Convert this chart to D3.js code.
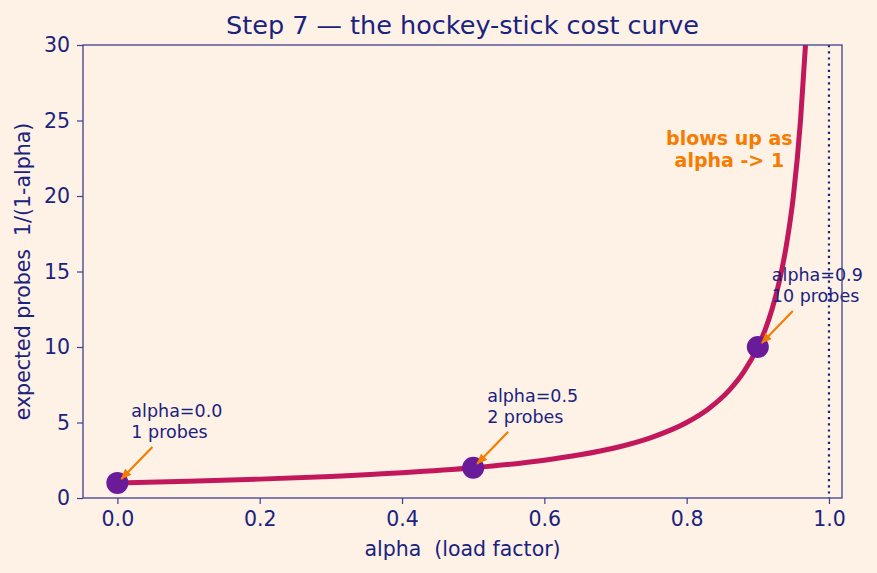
<!DOCTYPE html>
<html><head><meta charset="utf-8">
<script src="https://cdn.jsdelivr.net/npm/d3@7/dist/d3.min.js"></script>
<style>
html,body{margin:0;padding:0;background:#fef1e6;}
svg{display:block;font-family:"DejaVu Sans",sans-serif;}
text{white-space:pre;}
</style></head><body>
<svg id="chart" width="877" height="573"></svg>
<script>
// Curve samples (alpha, expected probes)
const alphaGrid = [0, 0.1, 0.2, 0.3, 0.4, 0.5, 0.6, 0.65, 0.7, 0.75, 0.8, 0.83, 0.86, 0.88, 0.9, 0.91, 0.92, 0.93, 0.94, 0.95, 0.96, 0.967];
const probes    = [1, 1.11, 1.25, 1.43, 1.67, 2, 2.5, 2.86, 3.33, 4, 5, 5.88, 7.14, 8.33, 10, 11.1, 12.5, 14.3, 16.7, 20, 25, 30];
// Highlighted points
const markAlpha = [0.0, 0.5, 0.9];
const markProbes = [1, 2, 10];
const markLabels = [["alpha=0.0", "1 probes"], ["alpha=0.5", "2 probes"], ["alpha=0.9", "10 probes"]];
// Axis ticks
const xTicks = [0.0, 0.2, 0.4, 0.6, 0.8, 1.0];
const yTicks = [0, 5, 10, 15, 20, 25, 30];
const asymptote = 1.0;
const title = "Step 7 \u2014 the hockey-stick cost curve";
const xLabel = "alpha  (load factor)";
const yLabel = "expected probes  1/(1-alpha)";
const blowText = ["blows up as", "alpha -> 1"];

const navy = "#1a237e", spine = "#3f3f8f", curveCol = "#c2185b", dotCol = "#6a1b9a", orange = "#f57c00";
const L = 83, R = 842, T = 45, B = 498;
const svg = d3.select("#chart");
const x = d3.scaleLinear().domain([-0.0483, 1.0183]).range([L, R]);
const y = d3.scaleLinear().domain([0, 30]).range([B, T]);

svg.append("defs").append("clipPath").attr("id", "clip")
  .append("rect").attr("x", L).attr("y", T).attr("width", R - L).attr("height", B - T);
const mk = svg.select("defs").append("marker").attr("id", "arr")
  .attr("viewBox", "0 0 10 10").attr("refX", 9).attr("refY", 5)
  .attr("markerWidth", 5).attr("markerHeight", 5).attr("markerUnits", "strokeWidth")
  .attr("orient", "auto");
mk.append("path").attr("d", "M0,1 L10,5 L0,9 Z").attr("fill", orange);

// asymptote
svg.append("line").attr("x1", x(asymptote)).attr("x2", x(asymptote)).attr("y1", T).attr("y2", B)
  .attr("stroke", navy).attr("stroke-width", 2.2).attr("stroke-dasharray", "2.2,4");

// curve
const pts = alphaGrid.map((a, i) => [a, probes[i]]);
svg.append("path").datum(pts).attr("clip-path", "url(#clip)")
  .attr("d", d3.line().x(d => x(d[0])).y(d => y(d[1])).curve(d3.curveMonotoneX))
  .attr("fill", "none").attr("stroke", curveCol).attr("stroke-width", 5).attr("stroke-linecap", "butt");

// points
svg.selectAll("circle.m").data(markAlpha).enter().append("circle")
  .attr("cx", d => x(d)).attr("cy", (d, i) => y(markProbes[i])).attr("r", 11).attr("fill", dotCol);

// annotations
markAlpha.forEach((a, i) => {
  const px = x(a), py = y(markProbes[i]);
  svg.append("line").attr("x1", px + 35).attr("y1", py - 36).attr("x2", px + 4).attr("y2", py - 4)
    .attr("stroke", orange).attr("stroke-width", 2.2).attr("marker-end", "url(#arr)");
  const t = svg.append("text").attr("fill", navy).attr("font-size", 17.5);
  markLabels[i].forEach((s, j) => t.append("tspan").attr("x", px + 14).attr("y", py - 66 + j * 21).text(s));
});

// blows up text
const bt = svg.append("text").attr("fill", orange).attr("font-size", 19).attr("font-weight", "bold").attr("text-anchor", "middle");
blowText.forEach((s, j) => bt.append("tspan").attr("x", x(0.86)).attr("y", 145 + j * 22).text(s));

// spines
svg.append("rect").attr("x", L).attr("y", T).attr("width", R - L).attr("height", B - T)
  .attr("fill", "none").attr("stroke", spine).attr("stroke-width", 1.3);

// axes
const xa = svg.append("g").attr("transform", `translate(0,${B})`)
  .call(d3.axisBottom(x).tickValues(xTicks).tickFormat(d3.format(".1f")).tickSize(6).tickPadding(7));
const ya = svg.append("g").attr("transform", `translate(${L},0)`)
  .call(d3.axisLeft(y).tickValues(yTicks).tickSize(6).tickPadding(7));
[xa, ya].forEach(g => {
  g.select(".domain").remove();
  g.selectAll("line").attr("stroke", spine).attr("stroke-width", 1.2);
  g.selectAll("text").attr("fill", navy).attr("font-size", 20.5).attr("font-family", "DejaVu Sans");
});

svg.append("text").attr("x", (L + R) / 2).attr("y", 34).attr("text-anchor", "middle")
  .attr("fill", navy).attr("font-size", 25.5).text(title);
svg.append("text").attr("x", (L + R) / 2).attr("y", 556).attr("text-anchor", "middle")
  .attr("fill", navy).attr("font-size", 20.5).text(xLabel);
svg.append("text").attr("transform", `translate(30,${(T + B) / 2}) rotate(-90)`).attr("text-anchor", "middle")
  .attr("fill", navy).attr("font-size", 20.5).text(yLabel);
</script></body></html>
